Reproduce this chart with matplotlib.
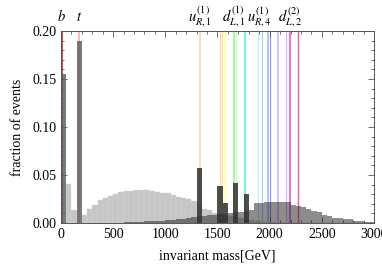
import numpy as np
import matplotlib
matplotlib.use("Agg")
import matplotlib.pyplot as plt
from matplotlib.ticker import MultipleLocator

plt.rcParams['font.family'] = ['Liberation Serif', 'DejaVu Serif']
plt.rcParams['mathtext.fontset'] = 'stix'

# 50 GeV bins from 0 to 3000
edges = np.arange(0, 3050, 50)

# light gray distribution
light = [0, 0.041, 0.0135, 0, 0.0083, 0.0143, 0.0188, 0.024, 0.0264, 0.0285,
         0.0306, 0.0323, 0.0333, 0.0337, 0.034, 0.0343, 0.0344, 0.033, 0.0326, 0.0316,
         0.0312, 0.0292, 0.0268, 0.026, 0.025, 0.0225, 0.02, 0.0146, 0.0139, 0.0104,
         0.009, 0.008, 0.007, 0.006, 0.005, 0.004, 0.003, 0.002, 0.0015, 0.001,
         0.0008, 0.0005, 0.0003, 0, 0, 0, 0, 0, 0, 0,
         0, 0, 0, 0, 0, 0, 0, 0, 0, 0]

# broad dark continuum
bump = [0, 0, 0, 0, 0, 0, 0, 0, 0, 0,
        0.0003, 0.0005, 0.0007, 0.001, 0.0012, 0.0014, 0.0016, 0.0019, 0.0022, 0.0025,
        0.003, 0.0035, 0.004, 0.0046, 0.0055, 0.0062, 0.0068, 0.0075, 0.008, 0.0083,
        0.009, 0.0095, 0.0104, 0.011, 0.012, 0.013, 0.0135, 0.0205, 0.021, 0.0215,
        0.022, 0.022, 0.0222, 0.0215, 0.0188, 0.018, 0.017, 0.0145, 0.0122, 0.0118,
        0.0088, 0.007, 0.0052, 0.005, 0.004, 0.0038, 0.0026, 0.0024, 0.0015, 0.0012]

# b and t peaks
sm_peaks = [0.0] * 60
sm_peaks[0] = 0.155
sm_peaks[3] = 0.19

# KK resonance peaks
kk_peaks = [0.0] * 60
kk_peaks[26] = 0.0576
kk_peaks[30] = 0.0385
kk_peaks[31] = 0.021
kk_peaks[33] = 0.0415
kk_peaks[35] = 0.030

# resonance mass lines
line_mass = [1337, 1522, 1541, 1570, 1660, 1675, 1763, 1891, 1923, 1987, 2000,
             2083, 2158, 2193, 2272]
line_col = ['#ffd8c0', '#ffd690', '#ffe490', '#ffffa0', '#90f090', '#c0ffb8',
            '#50f0e0', '#b8eeff', '#a0d0ff', '#a8b0ff', '#9090ff', '#d0b0ff',
            '#e4b0ff', '#e050d8', '#f06098']
line_w = [1.5, 0.8, 0.8, 1.1, 1.1, 0.8, 1.1, 0.8, 0.8, 1.1, 0.8, 1.1, 0.8, 1.1, 1.0]

labels = ['$b$', '$t$', '$u^{(1)}_{R,1}$', '$d^{(1)}_{L,1}$', '$u^{(1)}_{R,4}$', '$d^{(2)}_{L,2}$']
label_x = [0, 173, 1327, 1654, 1904, 2192]

fig = plt.figure(figsize=(3.82, 2.70), dpi=100)
ax = fig.add_axes([0.1597, 0.174, 0.8193, 0.711])

ax.axvline(5, color='#d03a3a', lw=1.3, zorder=1)
ax.axvline(173, color='#ffb0a0', lw=1.2, zorder=1)
for m, c, w in zip(line_mass, line_col, line_w):
    ax.axvline(m, color=c, lw=w, zorder=1)

ax.bar(edges[:-1], light, width=50, align='edge', color='#c6c6c6',
       edgecolor='#d4d4d4', linewidth=0.3, zorder=2)
ax.bar(edges[:-1], bump, width=50, align='edge', color='#1a1a1a', alpha=0.5,
       linewidth=0, zorder=3)
ax.bar(edges[:-1], sm_peaks, width=50, align='edge', color='#5a5a5a', alpha=0.8,
       linewidth=0, zorder=3)
ax.bar(edges[:-1], kk_peaks, width=50, align='edge', color='#303030', alpha=0.85,
       linewidth=0, zorder=4)

trans = ax.get_xaxis_transform()
for lab, x in zip(labels, label_x):
    ax.text(x, 1.05, lab, transform=trans, ha='center', va='baseline', fontsize=10.5)

ax.set_xlim(0, 3000)
ax.set_ylim(0, 0.2)
ax.xaxis.set_major_locator(MultipleLocator(500))
ax.xaxis.set_minor_locator(MultipleLocator(100))
ax.yaxis.set_major_locator(MultipleLocator(0.05))
ax.yaxis.set_minor_locator(MultipleLocator(0.01))
ax.yaxis.set_major_formatter(matplotlib.ticker.FormatStrFormatter('%.2f'))
ax.tick_params(which='both', direction='in', top=True, right=True, colors='#555555',
               labelcolor='black', labelsize=10, width=0.6)
ax.tick_params(which='major', length=4)
ax.tick_params(which='minor', length=2)
for s in ax.spines.values():
    s.set_color('#555555')
    s.set_linewidth(0.7)

ax.set_xlabel('invariant mass[GeV]', fontsize=10, labelpad=6)
ax.set_ylabel('fraction of events', fontsize=10, labelpad=6)

fig.savefig('out.png', dpi=100)
